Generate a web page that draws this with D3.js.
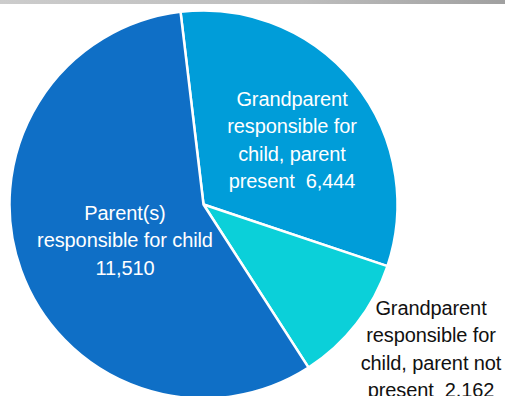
<!DOCTYPE html>
<html>
<head>
<meta charset="utf-8">
<script src="https://cdn.jsdelivr.net/npm/d3@7"></script>
<style>
  body { margin: 0; background: #fff; }
  text { font-family: "Liberation Sans", Arial, sans-serif; }
</style>
</head>
<body>
<div class="chart"></div>
<script>
var svgWidth = 505;
var svgHeight = 396;

// data
var categories = [
  "Grandparent responsible for child, parent present",
  "Grandparent responsible for child, parent not present",
  "Parent(s) responsible for child"
];
var values = [6444, 2162, 11510];
var labelLines = [
  ["Grandparent", "responsible for", "child, parent", "present  6,444"],
  ["Grandparent", "responsible for", "child, parent not", "present  2,162"],
  ["Parent(s)", "responsible for child", "11,510"]
];
var colors = ["#009DD9", "#0BD0D9", "#0F6FC6"];

var svg = d3.select(".chart")
  .append("svg")
  .attr("width", svgWidth)
  .attr("height", svgHeight);

// silver band at the top
var grad = svg.append("defs").append("linearGradient")
  .attr("id", "band")
  .attr("x1", "0").attr("y1", "0").attr("x2", "1").attr("y2", "0");
grad.append("stop").attr("offset", "0%").attr("stop-color", "#cccccc");
grad.append("stop").attr("offset", "60%").attr("stop-color", "#bdbdbd");
grad.append("stop").attr("offset", "100%").attr("stop-color", "#a0a0a0");
svg.append("rect")
  .attr("x", 0).attr("y", 0)
  .attr("width", svgWidth).attr("height", 4)
  .attr("fill", "url(#band)");

var cx = 203.5, cy = 204.5, radius = 194;
var startA = -6.8 * Math.PI / 180;

var pie = d3.pie()
  .sort(null)
  .value(d => d)
  .startAngle(startA)
  .endAngle(startA + 2 * Math.PI);

var arc = d3.arc().innerRadius(0).outerRadius(radius);

var chartGroup = svg.append("g")
  .attr("transform", `translate(${cx}, ${cy})`);

var arcs = pie(values);

chartGroup.selectAll("path")
  .data(arcs)
  .enter()
  .append("path")
  .attr("d", arc)
  .attr("fill", (d, i) => colors[i])
  .attr("stroke", "#fff")
  .attr("stroke-width", 2.5)
  .attr("stroke-linejoin", "round");

// label positions (centre of first baseline) relative to svg
var labelPos = [
  { x: 292, y: 106, fill: "#fff" },
  { x: 431, y: 315, fill: "#111" },
  { x: 125, y: 220, fill: "#fff" }
];
var lineH = 27.3;

labelLines.forEach(function (lines, i) {
  var t = svg.append("text")
    .attr("x", labelPos[i].x)
    .attr("y", labelPos[i].y)
    .attr("text-anchor", "middle")
    .attr("fill", labelPos[i].fill)
    .style("font-size", "20px")
    .style("letter-spacing", "-0.1px")
    .style("white-space", "pre");
  lines.forEach(function (ln, j) {
    t.append("tspan")
      .attr("x", labelPos[i].x)
      .attr("dy", j === 0 ? 0 : lineH)
      .text(ln);
  });
});
</script>
</body>
</html>
